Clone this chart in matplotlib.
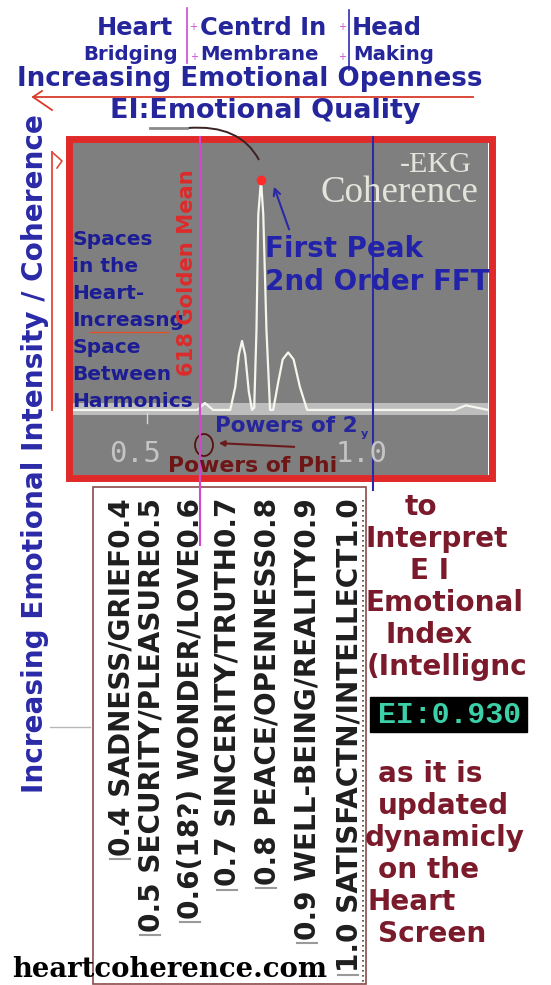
import matplotlib
matplotlib.use("Agg")
import matplotlib.pyplot as plt
from matplotlib.font_manager import FontProperties
from matplotlib.patches import Rectangle, Ellipse, PathPatch
from matplotlib.path import Path

# --- values ----------------------------------------------------------------
# 2nd order FFT of the EKG: frequency vs relative power
freq = [0.334, 0.600, 0.611, 0.628, 0.646, 0.684, 0.695, 0.703, 0.710, 0.717,
        0.725, 0.732, 0.737, 0.742, 0.746, 0.752, 0.757, 0.764, 0.772, 0.779,
        0.790, 0.800, 0.812, 0.824, 0.838, 0.854, 1.180, 1.205, 1.254]
power = [0.0, 0.0, 0.0, 0.03, 0.0, 0.0, 0.10, 0.24, 0.30, 0.24,
         0.08, 0.0, 0.01, 0.35, 0.85, 1.0, 0.85, 0.35, 0.0, 0.0,
         0.12, 0.22, 0.25, 0.22, 0.10, 0.0, 0.0, 0.02, 0.0]
tick_vals = [0.5, 1.0]
tick_labels = ["0.5", "1.0"]
golden_mean = 0.618
ei_value = 0.930

header_words = ["Heart", "Centrd In", "Head"]
header_sub = ["Bridging", "Membrane", "Making"]
spaces_note = ["Spaces", "in the", "Heart-", "Increasng", "Space", "Between", "Harmonics"]
emotion_scale = [
    "0.4 SADNESS/GRIEF0.4",
    "0.5 SECURITY/PLEASURE0.5",
    "0.6(18?) WONDER/LOVE0.6",
    "0.7 SINCERITY/TRUTH0.7",
    "0.8 PEACE/OPENNESS0.8",
    "0.9 WELL-BEING/REALITY0.9",
    "1.0 SATISFACTN/INTELLECT1.0",
]
note_above = ["to", "Interpret", "E I", "Emotional", "Index", "(Intellignc"]
note_below = ["as it is", "updated", "dynamicly", "on the", "Heart", "Screen"]

W, H = 551, 985
NAVY = "#25259c"
RED = "#dc2c2c"
PINK = "#d048d0"
MAROON = "#7a1a2a"

fig = plt.figure(figsize=(W / 100, H / 100), dpi=100)
fig.patch.set_facecolor("white")
renderer = fig.canvas.get_renderer()


def fit(s, width, weight="bold", family="DejaVu Sans"):
    """font size (pt) that makes s about `width` pixels long"""
    fp = FontProperties(family=family, weight=weight, size=10)
    w, _, _ = renderer.get_text_width_height_descent(s, fp, ismath=False)
    return 10 * width / w


# --- spectrum panel ---------------------------------------------------------
x0, x1, y0, y1 = 72, 488, 143, 475
ch = fig.add_axes([x0 / W, 1 - y1 / H, (x1 - x0) / W, (y1 - y0) / H])
ch.set_facecolor("#7f7f7f")
ch.set_xlim(0.334, 1.254)
ch.set_ylim(-0.283, 1.161)
ch.set_xticks([])
ch.set_yticks([])
for sp in ch.spines.values():
    sp.set_visible(False)
ch.axhspan(-0.022, 0.03, color="#bdbdbd", lw=0)
ch.plot(freq, power, color="#f6f6ee", lw=1.6)
ipk = power.index(max(power))
ch.plot(freq[ipk], power[ipk], "o", color="#ff2a2a", ms=7, mec="none")
ch.plot([tick_vals[0]] * 2, [-0.015, -0.055], color="#d8d8d8", lw=1)

# --- overlay in pixel coordinates -------------------------------------------
ov = fig.add_axes([0, 0, 1, 1])
ov.set_xlim(0, W)
ov.set_ylim(H, 0)
ov.axis("off")


def px(fx, fy=0.0):
    return ov.transData.inverted().transform(ch.transData.transform((fx, fy)))


ov.add_patch(Rectangle((68.5, 139), 423, 338.5, fill=False, ec="#e02a2a", lw=5))
gx = px(golden_mean)[0]
bx = px(tick_vals[1])[0]
ov.plot([gx, gx], [137, 545], color=PINK, lw=1.5)
ov.plot([bx, bx], [137, 490], color="#2a2aa8", lw=1.5)

# header rows
s = sum(fit(w, t) for w, t in zip(header_words, [80, 130, 66])) / 3
for w, x in zip(header_words, [97, 200, 352]):
    ov.text(x, 35, w, fontsize=s, fontweight="bold", color=NAVY, va="baseline")
s = sum(fit(w, t) for w, t in zip(header_sub, [97, 117, 80])) / 3
for w, x in zip(header_sub, [83, 200, 353]):
    ov.text(x, 60, w, fontsize=s, fontweight="bold", color=NAVY, va="baseline")
ov.plot([187, 187], [8, 63], color=PINK, lw=1.2)
ov.plot([349, 349], [10, 70], color="#3030b0", lw=1.2)
for x, y in [(193, 27), (342, 27), (194, 57), (342, 57)]:
    ov.text(x, y, "+", fontsize=7, color=PINK, ha="center", va="center")

t = "Increasing Emotional Openness"
ov.text(17, 86, t, fontsize=fit(t, 465), fontweight="bold", color=NAVY, va="baseline")
ov.plot([473, 33], [97, 97], color="#d83a2a", lw=1.3)
ov.plot([42, 33, 52], [91, 97, 110], color="#d83a2a", lw=1.3)
t = "EI:Emotional Quality"
ov.text(110, 118, t, fontsize=fit(t, 310), fontweight="bold", color=NAVY, va="baseline")

# left side
t = "Increasing Emotional Intensity / Coherence"
ov.text(35, 454, t, fontsize=fit(t, 678), fontweight="bold", color="#2a2aa8",
        rotation=90, ha="center", va="center")
ov.plot([52, 52], [410, 152], color="#e04a3a", lw=1.3)
ov.plot([52, 62, 57], [152, 161, 168], color="#e04a3a", lw=1.2)
ov.plot([50, 90], [727, 727], color="#b8b8b8", lw=1)

# texts inside the panel
sz = fit("-EKG", 72, weight="normal", family="Liberation Serif")
ov.text(472, 172, "-EKG", fontsize=sz, family="Liberation Serif", color="#e4e4dc",
        ha="right", va="baseline")
sz = fit("Coherence", 158, weight="normal", family="Liberation Serif")
ov.text(478, 202, "Coherence", fontsize=sz, family="Liberation Serif", color="#e4e4dc",
        ha="right", va="baseline")

sz = (fit("First Peak", 163) + fit("2nd Order FFT", 218)) / 2
ov.text(265, 257, "First Peak", fontsize=sz, fontweight="bold", color="#2222aa", va="baseline")
ov.text(265, 290, "2nd Order FFT", fontsize=sz, fontweight="bold", color="#2222aa", va="baseline")

sz = fit("Harmonics", 120)
for k, line in enumerate(spaces_note):
    ov.text(72, 245 + 27 * k, line, fontsize=sz, fontweight="bold", color="#1c1c94",
            va="baseline")
ov.plot([90, 168], [332, 332], color="#e0522a", lw=1)

t = "618 Golden Mean"
ov.text(187, 273, t, fontsize=fit(t, 207), fontweight="bold", color=RED,
        rotation=90, ha="center", va="center")

t = "Powers of 2"
ov.text(215, 432, t, fontsize=fit(t, 143), fontweight="bold", color=NAVY, va="baseline")
ov.text(361, 437, "y", fontsize=8, fontweight="bold", color=NAVY, va="baseline")
for v, lab in zip(tick_vals, tick_labels):
    ov.text(px(v)[0] - 12, 462, lab, fontsize=fit(lab, 52, weight="normal", family="DejaVu Sans Mono"),
            family="DejaVu Sans Mono", color="#c4c4c4", ha="center", va="baseline")
t = "Powers of Phi"
ov.text(168, 472, t, fontsize=fit(t, 169), fontweight="bold", color="#6e1616", va="baseline")
ov.add_patch(Ellipse((204, 445), 18, 22, fill=False, ec="#5a1010", lw=1.3))
ov.annotate("", xy=(216, 443), xytext=(297, 447),
            arrowprops=dict(arrowstyle="-|>", color="#6a1a1a", lw=1.5, mutation_scale=8))

# callouts to the peak
ov.plot([150, 187], [128, 128], color="#8a8a8a", lw=2)
ov.add_patch(PathPatch(Path([(188, 128), (240, 124), (259, 160)],
                            [Path.MOVETO, Path.CURVE3, Path.CURVE3]),
                       fill=False, ec="#3a2222", lw=1.4))
ov.annotate("", xy=(273, 184), xytext=(290, 232),
            arrowprops=dict(arrowstyle="->", color="#2a2aa8", lw=1.5, mutation_scale=12))

# --- emotion scale table ----------------------------------------------------
ov.add_patch(Rectangle((93, 487), 273, 497, fill=False, ec="#8c4a4a", lw=1.2))
ov.plot([363, 363], [500, 984], color="#5a3a3a", lw=1.2, ls=(0, (1, 2)))
targets = [362, 437, 417, 392, 382, 447]
sz = sum(targets) / sum(fit(c, 10) * 0 + fit(c, 1) * 0 + 1 for c in [""]) if False else None
ws = [fit(c, 100) for c in emotion_scale[:6]]
sz = sum(w * tg / 100 for w, tg in zip(ws, targets)) / len(targets)
for c, cx in zip(emotion_scale, [121, 151, 191, 228, 267, 308, 349]):
    tx = ov.text(cx, 498, c, fontsize=sz, fontweight="bold", color="#1e1e1e",
                 rotation=90, ha="center", va="top")
    bb = tx.get_window_extent(renderer)
    ybot = H - bb.y0 + 3
    if ybot < H - 5:
        ov.plot([cx - 11, cx + 9], [ybot, ybot], color="#9a9a9a", lw=1.5)

# --- right-hand note --------------------------------------------------------
sz = (fit("Interpret", 142) + fit("Emotional", 152) + fit("(Intellignc", 165)) / 3
for k, (line, x) in enumerate(zip(note_above, [405, 365, 410, 365, 385, 367])):
    ov.text(x, 515 + 32 * k, line, fontsize=sz, fontweight="bold", color=MAROON, va="baseline")
for k, (line, x) in enumerate(zip(note_below, [378, 378, 365, 378, 368, 378])):
    ov.text(x, 782 + 32 * k, line, fontsize=sz, fontweight="bold", color=MAROON, va="baseline")

ov.add_patch(Rectangle((370, 697), 157, 35, color="black"))
t = f"EI:{ei_value:.3f}"
ov.text(449, 715, t, fontsize=fit(t, 144, family="Liberation Mono"), family="Liberation Mono",
        fontweight="bold", color="#3cd0a8", ha="center", va="center")

t = "heartcoherence.com"
ov.text(12, 977, t, fontsize=fit(t, 316, family="DejaVu Serif"), family="DejaVu Serif",
        fontweight="bold", color="black", va="baseline")

fig.savefig("out.png", dpi=100)
